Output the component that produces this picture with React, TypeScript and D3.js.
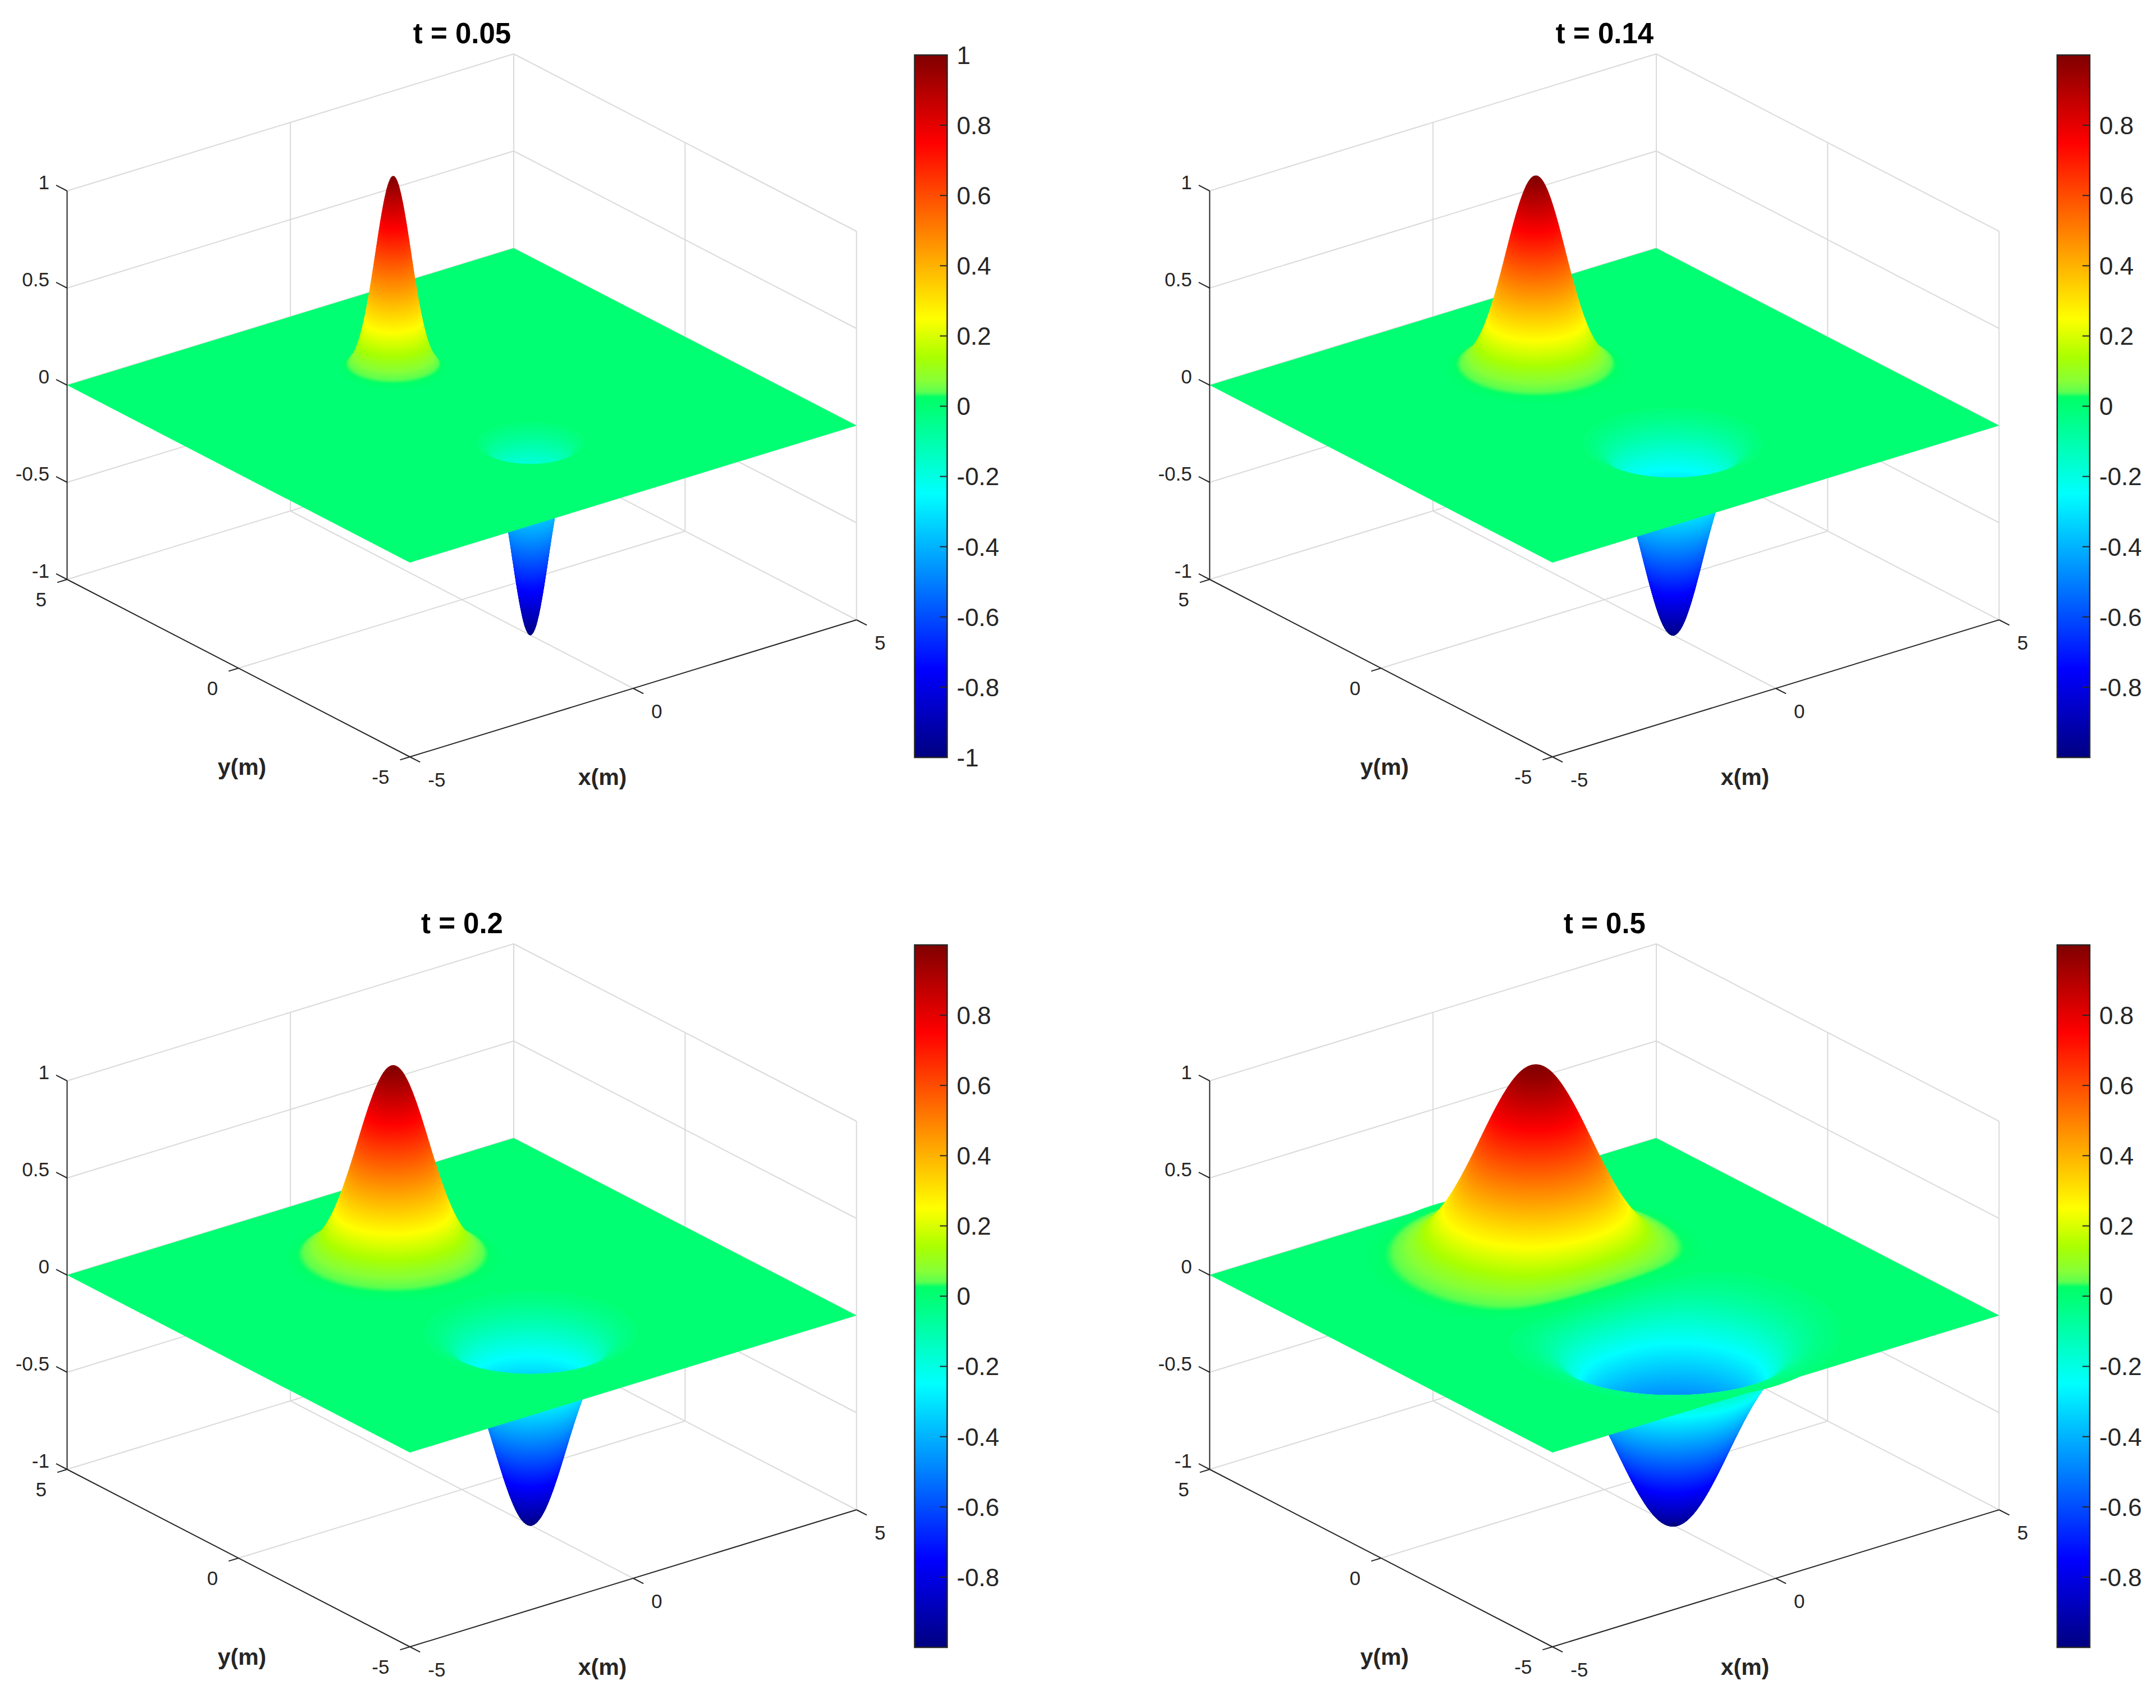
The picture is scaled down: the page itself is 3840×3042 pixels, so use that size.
import React, { useMemo } from "react";
import * as d3 from "d3";

// ---- data ----
const panelTitles = ["t = 0.05", "t = 0.14", "t = 0.2", "t = 0.5"];
const panelTimes = [0.05, 0.14, 0.2, 0.5];
const panelColorbarTicks = [
  [1, 0.8, 0.6, 0.4, 0.2, 0, -0.2, -0.4, -0.6, -0.8, -1],
  [0.8, 0.6, 0.4, 0.2, 0, -0.2, -0.4, -0.6, -0.8],
  [0.8, 0.6, 0.4, 0.2, 0, -0.2, -0.4, -0.6, -0.8],
  [0.8, 0.6, 0.4, 0.2, 0, -0.2, -0.4, -0.6, -0.8],
];
const xTicks = [-5, 0, 5];
const yTicks = [-5, 0, 5];
const zTicks = [-1, -0.5, 0, 0.5, 1];
const sourceCentreY = 2;
const sinkCentreY = -2;
// height of a bump against distance / sqrt(t), one entry every 0.2
const profileHeight = [1, 0.99, 0.961, 0.914, 0.852, 0.779, 0.698, 0.613, 0.527, 0.445, 0.368, 0.298, 0.237, 0.185, 0.141, 0.105, 0.077, 0.056, 0.039, 0.027, 0.018, 0.012, 0.008, 0.005, 0.003, 0.002, 0.001, 0.001, 0, 0, 0];
// colour map
const colorValues = [-1, -0.75, -0.25, 0, 0.026, 0.04, 0.07, 0.14, 0.25, 0.75, 1];
const colorList = ["#000080", "#0000ff", "#00ffff", "#00ff73", "#00ff68", "#5cff50", "#86ff38", "#aaff00", "#ffff00", "#ff0000", "#800000"];

// ---- layout ----
const W = 3840;
const H = 3042;
const colStep = 2035;
const rowStep = 1585;
const F = [730, 1348];
const L = [119.5, 1032];
const R = [1525.5, 1104];
const zSpan = 692;
const bar = { x0: 1629, x1: 1687, y0: 98, y1: 1349 };
const ink = "#262626";
const gridInk = "#dadada";
const font = "'Liberation Sans', Arial, sans-serif";
const meshSizes = [520, 420, 360, 280];
const flatLimit = 0.012;
const wellLevels = d3.range(flatLimit, 1, 0.005);
const hillLevels = [...d3.range(flatLimit, 0.02, 0.004), ...d3.range(0.02, 0.06, 0.001), ...d3.range(0.06, 1, 0.005)];

const color = d3.scaleLinear<string>().domain(colorValues).range(colorList).clamp(true);
const xFrac = d3.scaleLinear().domain([-5, 5]).range([0, 1]);
const yFrac = d3.scaleLinear().domain([-5, 5]).range([0, 1]);
const zPix = d3.scaleLinear().domain([-1, 1]).range([0, zSpan]);
const barY = d3.scaleLinear().domain([-1, 1]).range([bar.y1, bar.y0]);
const profileStep = 0.2;

// smooth reading of the profile table (Catmull-Rom through its entries)
function profile(rho: number) {
  const s = rho / profileStep;
  const i = Math.floor(s);
  if (i >= profileHeight.length - 1) return 0;
  const t = s - i;
  const p1 = profileHeight[i];
  const p2 = profileHeight[i + 1];
  const p0 = i > 0 ? profileHeight[i - 1] : p2;
  const p3 = i + 2 < profileHeight.length ? profileHeight[i + 2] : p2;
  const v = 0.5 * (2 * p1 + (p2 - p0) * t + (2 * p0 - 5 * p1 + 4 * p2 - p3) * t * t + (3 * p1 - p0 - 3 * p2 + p3) * t * t * t);
  return Math.max(0, v);
}

function project(x: number, y: number, z: number): [number, number] {
  const a = xFrac(x);
  const b = yFrac(y);
  return [
    F[0] + a * (R[0] - F[0]) + b * (L[0] - F[0]),
    F[1] + a * (R[1] - F[1]) + b * (L[1] - F[1]) - zPix(z),
  ];
}

function seg(a: [number, number], b: [number, number]) {
  return { x1: a[0], y1: a[1], x2: b[0], y2: b[1] };
}

function ringsToPath(mp: any, z: number, n: number) {
  const h = 10 / (n - 1);
  let out = "";
  for (const poly of mp.coordinates) {
    for (const ring of poly) {
      let lx = 1e9;
      let ly = 1e9;
      let first = true;
      for (let i = 0; i < ring.length; i++) {
        const p = project(-5 + (ring[i][0] - 0.5) * h, -5 + (ring[i][1] - 0.5) * h, z);
        if (i < ring.length - 1 && Math.abs(p[0] - lx) + Math.abs(p[1] - ly) < 1.1) continue;
        out += (first ? "M" : "L") + p[0].toFixed(1) + "," + p[1].toFixed(1);
        first = false;
        lx = p[0];
        ly = p[1];
      }
      out += "Z";
    }
  }
  return out;
}

type Band = { d: string; fill: string };

function buildSurface(time: number, n: number) {
  const h = 10 / (n - 1);
  const root = Math.sqrt(time);
  const up = new Float64Array(n * n);
  const down = new Float64Array(n * n);
  for (let j = 0; j < n; j++) {
    const y = -5 + j * h;
    for (let i = 0; i < n; i++) {
      const x = -5 + i * h;
      const a = profile(Math.hypot(x, y - sourceCentreY) / root);
      const b = profile(Math.hypot(x, y - sinkCentreY) / root);
      up[j * n + i] = a - b;
      down[j * n + i] = b - a;
    }
  }
  const gen = d3.contours().size([n, n]).smooth(true);

  const hill: Band[] = [];
  for (const c of hillLevels) {
    const mp = gen.contour(up as any, c);
    if (!mp.coordinates.length) break;
    hill.push({ d: ringsToPath(mp, c, n), fill: color(c) as string });
  }

  const wellRings: { c: number; mp: any }[] = [];
  for (const c of wellLevels) {
    const mp = gen.contour(down as any, c);
    if (!mp.coordinates.length) break;
    wellRings.push({ c, mp });
  }
  const well: Band[] = [];
  for (let i = wellRings.length - 1; i > 0; i--) {
    const deep = wellRings[i];
    const upper = wellRings[i - 1];
    well.push({
      d: ringsToPath(deep.mp, -deep.c, n) + ringsToPath(upper.mp, -upper.c, n),
      fill: color(-(deep.c + upper.c) / 2) as string,
    });
  }
  const cap = wellRings[wellRings.length - 1];
  if (cap) well.push({ d: ringsToPath(cap.mp, -cap.c, n), fill: color(-cap.c) as string });

  const corners = [project(-5, -5, 0), project(5, -5, 0), project(5, 5, 0), project(-5, 5, 0)];
  const planeOutline = "M" + corners.map((p) => p.join(",")).join("L") + "Z";
  const plane = planeOutline + (wellRings.length ? ringsToPath(wellRings[0].mp, -wellRings[0].c, n) : "");
  return { hill, well, plane };
}

const gradientStops = d3.range(0, 401).map((i) => ({ off: i / 400, col: color(1 - i / 200) as string }));

function Axes3D() {
  const grid: any[] = [];
  for (const z of zTicks) {
    grid.push(seg(project(-5, 5, z), project(5, 5, z)));
    grid.push(seg(project(5, 5, z), project(5, -5, z)));
  }
  for (const x of xTicks) {
    if (x !== -5) grid.push(seg(project(x, 5, -1), project(x, 5, 1)));
    if (x === 0) grid.push(seg(project(x, -5, -1), project(x, 5, -1)));
  }
  for (const y of yTicks) {
    if (y !== 5) grid.push(seg(project(5, y, -1), project(5, y, 1)));
    if (y === 0) grid.push(seg(project(-5, y, -1), project(5, y, -1)));
  }
  return (
    <g stroke={gridInk} strokeWidth={2}>
      {grid.map((g, i) => (
        <line key={i} {...g} />
      ))}
    </g>
  );
}

function AxesFront() {
  const marks: any[] = [
    seg(project(-5, 5, -1), project(-5, 5, 1)),
    seg(project(-5, 5, -1), project(-5, -5, -1)),
    seg(project(-5, -5, -1), project(5, -5, -1)),
  ];
  const labels: any[] = [];
  for (const z of zTicks) {
    const end = project(-5, 5.32, z);
    marks.push(seg(project(-5, 5, z), end));
    labels.push({ t: String(z), x: end[0] - 12, y: end[1] - 5, a: "end" });
  }
  for (const y of yTicks) {
    const end = project(-5.22, y, -1);
    marks.push(seg(project(-5, y, -1), end));
    labels.push({ t: String(y), x: end[0] - 19, y: end[1] + 30, a: "end" });
  }
  for (const x of xTicks) {
    const end = project(x, -5.3, -1);
    marks.push(seg(project(x, -5, -1), end));
    labels.push({ t: String(x), x: end[0] + 14, y: end[1] + 31, a: "start" });
  }
  return (
    <g>
      <g stroke={ink} strokeWidth={2}>
        {marks.map((m, i) => (
          <line key={i} {...m} />
        ))}
      </g>
      <g fontFamily={font} fontSize={35} fill={ink}>
        {labels.map((l, i) => (
          <text key={i} x={l.x} y={l.y} dy="0.36em" textAnchor={l.a}>
            {l.t}
          </text>
        ))}
      </g>
      <g fontFamily={font} fontSize={41} fontWeight="bold" fill={ink} textAnchor="middle">
        <text x={1073} y={1385} dy="0.32em">x(m)</text>
        <text x={431} y={1367} dy="0.32em">y(m)</text>
      </g>
    </g>
  );
}

function Colorbar({ ticks }: { ticks: number[] }) {
  return (
    <g>
      <rect x={bar.x0} y={bar.y0} width={bar.x1 - bar.x0} height={bar.y1 - bar.y0} fill="url(#cmap)" stroke={ink} strokeWidth={2.5} />
      {ticks.map((t) => (
        <g key={t}>
          <line x1={bar.x1 - 13} x2={bar.x1} y1={barY(t)} y2={barY(t)} stroke={ink} strokeWidth={2} />
          <text x={1704} y={barY(t)} dy="0.36em" fontFamily={font} fontSize={44} fill={ink}>
            {String(t)}
          </text>
        </g>
      ))}
    </g>
  );
}

function Panel({ index }: { index: number }) {
  const surface = useMemo(() => buildSurface(panelTimes[index], meshSizes[index]), [index]);
  const col = index % 2;
  const row = index >> 1;
  return (
    <g transform={`translate(${col * colStep},${row * rowStep})`}>
      <Axes3D />
      {surface.well.map((b, i) => (
        <path key={i} d={b.d} fill={b.fill} fillRule="evenodd" stroke={b.fill} strokeWidth={1} strokeLinejoin="round" />
      ))}
      <path d={surface.plane} fill={color(0) as string} fillRule="evenodd" />
      {surface.hill.map((b, i) => (
        <path key={i} d={b.d} fill={b.fill} fillRule="evenodd" />
      ))}
      <AxesFront />
      <Colorbar ticks={panelColorbarTicks[index]} />
      <text x={823} y={59} dy="0.36em" textAnchor="middle" fontFamily={font} fontSize={51} fontWeight="bold" fill="#000">
        {panelTitles[index]}
      </text>
    </g>
  );
}

export default function App() {
  return (
    <svg width={W} height={H} viewBox={`0 0 ${W} ${H}`} style={{ position: "absolute", left: 0, top: 0, background: "#fff" }}>
      <defs>
        <linearGradient id="cmap" x1="0" y1="0" x2="0" y2="1">
          {gradientStops.map((s, i) => (
            <stop key={i} offset={s.off} stopColor={s.col} />
          ))}
        </linearGradient>
      </defs>
      <rect width={W} height={H} fill="#fff" />
      {panelTitles.map((_, i) => (
        <Panel key={i} index={i} />
      ))}
    </svg>
  );
}
